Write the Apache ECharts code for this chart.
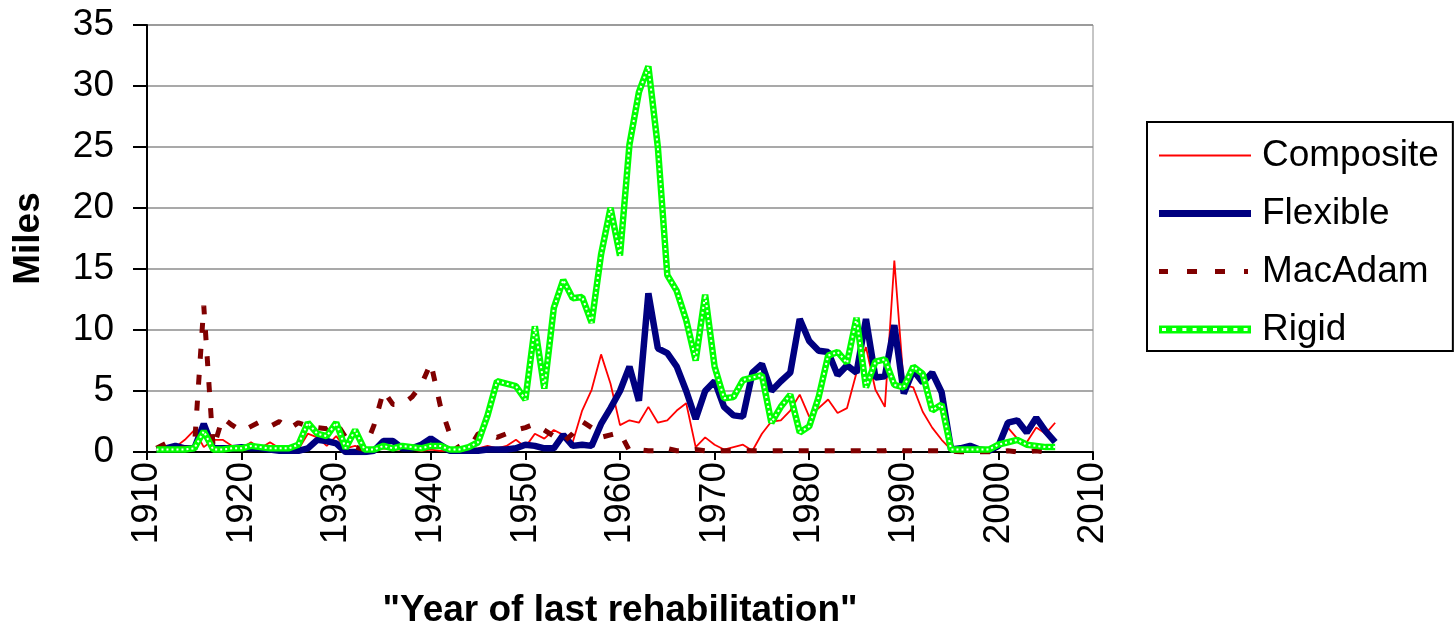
<!DOCTYPE html>
<html>
<head>
<meta charset="utf-8">
<script src="https://cdn.jsdelivr.net/npm/echarts@6/dist/echarts.min.js"></script>
<style>
  html, body { margin: 0; padding: 0; background: #ffffff; }
  #chart { width: 1454px; height: 628px; }
</style>
</head>
<body>
<div id="chart"></div>
<script>
const years = [1911,1912,1913,1914,1915,1916,1917,1918,1919,1920,
  1921,1922,1923,1924,1925,1926,1927,1928,1929,1930,
  1931,1932,1933,1934,1935,1936,1937,1938,1939,1940,
  1941,1942,1943,1944,1945,1946,1947,1948,1949,1950,
  1951,1952,1953,1954,1955,1956,1957,1958,1959,1960,
  1961,1962,1963,1964,1965,1966,1967,1968,1969,1970,
  1971,1972,1973,1974,1975,1976,1977,1978,1979,1980,
  1981,1982,1983,1984,1985,1986,1987,1988,1989,1990,
  1991,1992,1993,1994,1995,1996,1997,1998,1999,2000,
  2001,2002,2003,2004,2005,2006];

const composite = [0.1,0.3,0.4,1.0,1.8,0.4,1.0,1.0,0.5,0.3,
  0.8,0.3,0.8,0.3,0.3,0.2,1.5,1.2,0.5,1.3,
  0.3,0.5,0.2,0.1,0.3,0.2,0.2,0.2,0.1,0.2,
  0.1,0.1,0.1,0.2,0.3,0.5,0.3,0.5,1.0,0.4,
  1.5,1.1,1.8,1.4,0.8,3.4,5.1,8.0,5.6,2.2,
  2.6,2.4,3.7,2.4,2.6,3.4,4.0,0.4,1.2,0.6,
  0.2,0.4,0.6,0.1,1.5,2.5,2.6,3.4,4.7,2.9,
  3.6,4.3,3.2,3.6,6.5,8.6,5.1,3.7,15.7,5.5,
  5.3,3.3,2.0,1.0,0.2,0.1,0.1,0.1,0.1,0.3,
  2.0,1.1,0.8,2.0,1.5,2.4];

const flexible = [0.2,0.3,0.5,0.3,0.3,2.3,0.3,0.3,0.3,0.4,
  0.3,0.3,0.2,0.1,0.1,0.1,0.3,1.0,0.9,0.7,
  0.0,0.0,0.0,0.1,0.9,0.9,0.3,0.3,0.6,1.1,
  0.6,0.1,0.1,0.1,0.1,0.2,0.2,0.2,0.3,0.6,
  0.5,0.3,0.3,1.4,0.5,0.6,0.5,2.3,3.6,5.0,
  7.0,4.2,13.0,8.5,8.1,7.0,5.0,2.7,5.0,5.8,
  3.7,3.0,2.9,6.5,7.2,5.0,5.8,6.5,10.9,9.1,
  8.3,8.2,6.3,7.1,6.5,10.9,6.1,6.2,10.4,4.8,
  6.7,5.7,6.5,4.9,0.2,0.3,0.5,0.2,0.1,0.5,
  2.4,2.6,1.6,2.8,1.7,0.8];

const macadam = [0.3,0.7,0.3,0.3,0.3,12.0,0.3,2.8,2.2,1.7,
  2.1,2.5,2.1,2.5,1.9,2.4,2.1,2.0,1.9,2.4,
  1.2,0.4,0.2,2.2,5.0,3.9,3.9,4.5,5.5,7.3,
  3.8,1.5,0.2,0.2,1.5,1.5,1.2,1.5,1.8,2.0,
  2.3,1.8,1.3,0.8,1.5,2.5,2.0,1.2,1.4,1.6,
  0.1,0.2,0.1,0.1,0.3,0.1,0.1,0.2,0.1,0.1,
  0.1,0.1,0.1,0.1,0.1,0.1,0.1,0.1,0.1,0.1,
  0.1,0.1,0.1,0.1,0.1,0.1,0.1,0.1,0.3,0.1,
  0.1,0.1,0.1,0.1,0.1,0.0,0.0,0.0,0.0,0.0,
  0.1,0.0,0.0,0.1,0.0,0.0];

const rigid = [0.2,0.2,0.2,0.2,0.3,1.7,0.2,0.2,0.3,0.3,
  0.5,0.4,0.3,0.3,0.3,0.6,2.4,1.5,1.3,2.4,
  0.3,1.8,0.2,0.2,0.5,0.3,0.5,0.4,0.3,0.5,
  0.5,0.2,0.2,0.4,0.8,3.0,5.8,5.6,5.4,4.3,
  10.3,5.2,11.8,14.1,12.6,12.7,10.6,16.2,20.0,16.1,
  25.2,29.5,31.6,25.0,14.5,13.2,10.8,7.5,12.9,7.0,
  4.4,4.5,5.9,6.1,6.3,2.4,3.7,4.7,1.6,2.1,
  4.5,7.9,8.2,7.3,11.0,5.3,7.4,7.6,5.5,5.3,
  7.0,6.4,3.4,3.9,0.2,0.2,0.2,0.2,0.2,0.6,
  0.8,1.0,0.6,0.5,0.4,0.4];

const seriesNames = ['Composite', 'Flexible', 'MacAdam', 'Rigid'];
const xTicks = [1910, 1920, 1930, 1940, 1950, 1960, 1970, 1980, 1990, 2000, 2010];
const yTicks = [0, 5, 10, 15, 20, 25, 30, 35];

const pairs = arr => years.map((y, i) => [y, arr[i]]);
const svgIcon = s => 'image://data:image/svg+xml;charset=utf-8,' + encodeURIComponent(
  "<svg xmlns='http://www.w3.org/2000/svg' width='92' height='10' viewBox='0 0 92 10'>" + s + "</svg>");

let rigidDots = '';
for (let k = 0; k < 9; k++) rigidDots += "<rect x='" + (3 + k * 10.2) + "' y='3.5' width='4' height='3' fill='#ffffff'/>";
const icons = {
  Composite: svgIcon("<rect x='0' y='4' width='92' height='2' fill='#ff0000'/>"),
  Flexible: svgIcon("<rect x='0' y='1.5' width='92' height='7' fill='#000080'/>"),
  MacAdam: svgIcon("<rect x='0' y='2.5' width='9' height='5' fill='#800000'/><rect x='28' y='2.5' width='10' height='5' fill='#800000'/><rect x='56' y='2.5' width='10' height='5' fill='#800000'/><rect x='85' y='2.5' width='4' height='5' fill='#800000'/>"),
  Rigid: svgIcon("<rect x='0' y='1' width='92' height='8' fill='#00ff00'/>" + rigidDots)
};

const FONT = "'Liberation Sans', Arial, sans-serif";
const chart = echarts.init(document.getElementById('chart'), null, { renderer: 'canvas' });

chart.setOption({
  animation: false,
  backgroundColor: '#ffffff',
  grid: {
    left: 147, right: 361, top: 25, bottom: 176,
    containLabel: false, outerBoundsMode: 'none',
    show: true, borderColor: '#8c8c8c', borderWidth: 1, backgroundColor: 'transparent'
  },
  legend: {
    orient: 'vertical',
    left: 1147, top: 122,
    padding: [15, 14, 3, 12],
    itemGap: 21,
    itemWidth: 92, itemHeight: 10,
    borderColor: '#000000', borderWidth: 2, backgroundColor: '#ffffff',
    textStyle: { fontFamily: FONT, fontSize: 37, color: '#000000', lineHeight: 37, padding: [0, 0, 0, 6] },
    data: seriesNames.map(n => ({ name: n, icon: icons[n] }))
  },
  xAxis: {
    type: 'value', min: xTicks[0], max: xTicks[xTicks.length - 1], interval: 10,
    name: '"Year of last rehabilitation"', nameLocation: 'middle', nameGap: 140,
    nameTextStyle: { fontFamily: FONT, fontSize: 37, fontWeight: 'bold', color: '#000000' },
    axisLine: { show: true, onZero: false, lineStyle: { color: '#000000', width: 2 } },
    axisTick: { show: true, inside: false, length: 8, lineStyle: { color: '#000000', width: 2 } },
    axisLabel: { rotate: 90, margin: 10, fontFamily: FONT, fontSize: 37, color: '#000000',
      formatter: v => String(v) },
    splitLine: { show: false }
  },
  yAxis: {
    type: 'value', min: yTicks[0], max: yTicks[yTicks.length - 1], interval: 5,
    name: 'Miles', nameLocation: 'middle', nameGap: 100, nameRotate: 90,
    nameTextStyle: { fontFamily: FONT, fontSize: 37, fontWeight: 'bold', color: '#000000' },
    axisLine: { show: true, lineStyle: { color: '#000000', width: 2 } },
    axisTick: { show: true, inside: false, length: 14, lineStyle: { color: '#000000', width: 2 } },
    axisLabel: { margin: 33, fontFamily: FONT, fontSize: 37, color: '#000000' },
    splitLine: { show: true, lineStyle: { color: '#8c8c8c', width: 1.5 } }
  },
  series: [
    { name: 'Composite', type: 'line', data: pairs(composite), showSymbol: false, symbol: 'none',
      lineStyle: { color: '#ff0000', width: 1.8 }, itemStyle: { color: '#ff0000' } },
    { name: 'Flexible', type: 'line', data: pairs(flexible), showSymbol: false, symbol: 'none',
      lineStyle: { color: '#000080', width: 6.5 }, itemStyle: { color: '#000080' } },
    { name: 'MacAdam', type: 'line', data: pairs(macadam), showSymbol: false, symbol: 'none',
      lineStyle: { color: '#800000', width: 5, type: [10, 16] }, itemStyle: { color: '#800000' } },
    { name: 'Rigid', type: 'line', data: pairs(rigid), showSymbol: false, symbol: 'none',
      lineStyle: { color: '#00ff00', width: 6.5 }, itemStyle: { color: '#00ff00' } },
    { name: 'Rigid dots', type: 'line', data: pairs(rigid), showSymbol: false, symbol: 'none',
      silent: true, lineStyle: { color: '#ffffff', width: 2, type: [2, 3] }, itemStyle: { color: '#ffffff' } }
  ]
});
</script>
</body>
</html>
